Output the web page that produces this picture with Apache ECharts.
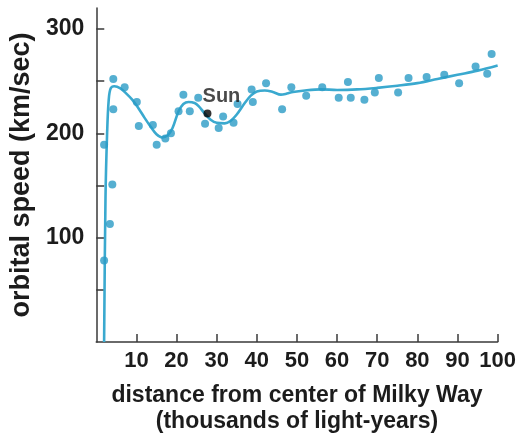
<!DOCTYPE html>
<html>
<head>
<meta charset="utf-8">
<script src="https://cdn.jsdelivr.net/npm/echarts@6/dist/echarts.min.js"></script>
<style>
  html, body { margin: 0; padding: 0; background: #ffffff; }
  #chart { width: 519px; height: 440px; }
</style>
</head>
<body>
<div id="chart"></div>
<script>
// Measured orbital speeds (thousands of light-years, km/sec)
const starDistance = [1.95, 3.4, 4.0, 1.95, 4.24, 4.24, 7.07, 10.1, 10.6, 14.1, 15.05, 17.2, 18.6, 20.5, 21.7, 23.3, 25.4, 27.1, 30.5, 31.6, 34.2, 35.2, 38.7, 39.0, 42.3, 46.3, 48.6, 52.3, 56.3, 60.4, 62.7, 63.4, 66.8, 69.4, 70.4, 75.2, 77.8, 82.3, 86.7, 90.4, 94.5, 97.4, 98.5];
const starSpeed    = [78, 113, 151, 189, 223, 252, 244, 230, 207, 208, 189, 195, 200, 221, 237, 221, 234, 209, 205, 216, 210, 228, 242, 230, 248, 223, 244, 236, 244, 234, 249, 234, 232, 239, 253, 239, 253, 254, 256, 248, 264, 257, 276];

// Fitted rotation curve
const curveDistance = [1.95, 2.3, 2.7, 3.1, 3.6, 4.5, 6, 7.5, 9, 10.5, 12, 13.6, 15, 16.4, 17.8, 19, 20.5, 21.7, 23, 24.5, 25.5, 27, 28.5, 30, 32, 33.5, 35, 37, 38.5, 40, 42, 44, 46, 47.5, 49, 52, 56, 60, 65, 70, 75, 80, 85, 90, 95, 100];
const curveSpeed    = [0, 139, 200, 232, 243, 245, 243, 238, 232, 224, 215, 206, 199, 196, 198, 205, 221, 228, 230, 229, 226, 219, 213, 210, 209.5, 212, 218, 229, 236, 240, 241, 239.5, 237, 238, 239.5, 241, 242, 241.5, 242, 243.5, 245.5, 248, 252, 256, 260, 265];

// The Sun's position on the curve
const sunDistance = 27.7;
const sunSpeed = 219;
const sunLabel = 'Sun';

// Axis ticks and labels
const xTickValues = [10, 20, 30, 40, 50, 60, 70, 80, 90, 100];
const yTickValues = [50, 100, 150, 200, 250, 300];
const yLabelValues = [100, 200, 300];

const FONT = "'Liberation Sans', Arial, Helvetica, sans-serif";
const INK = '#1c1c1c';
const AXIS = '#3a3a3a';

const stars = starDistance.map((d, i) => [d, starSpeed[i]]);
const curve = curveDistance.map((d, i) => [d, curveSpeed[i]]);

const chart = echarts.init(document.getElementById('chart'), null, { renderer: 'canvas' });
chart.setOption({
  animation: false,
  backgroundColor: '#ffffff',
  grid: { left: 92, right: 17, top: 8, bottom: 92 },
  xAxis: {
    type: 'value',
    min: 0,
    max: 100,
    axisLine: { show: true, lineStyle: { color: AXIS, width: 1.5 } },
    axisTick: { show: true, inside: true, length: 8, customValues: xTickValues, lineStyle: { color: AXIS, width: 1.5 } },
    axisLabel: { customValues: xTickValues, margin: 8, color: INK, fontFamily: FONT, fontWeight: 'bold', fontSize: 22 },
    splitLine: { show: false },
    name: 'distance from center of Milky Way\n(thousands of light-years)',
    nameLocation: 'middle',
    nameGap: 41,
    nameTextStyle: { color: INK, fontFamily: FONT, fontWeight: 'bold', fontSize: 23, lineHeight: 26, align: 'center' }
  },
  yAxis: {
    type: 'value',
    min: 0,
    max: 320,
    axisLine: { show: true, lineStyle: { color: AXIS, width: 1.5 } },
    axisTick: { show: true, inside: true, length: 8, customValues: yTickValues, lineStyle: { color: AXIS, width: 1.5 } },
    axisLabel: { customValues: yLabelValues, margin: 12, color: INK, fontFamily: FONT, fontWeight: 'bold', fontSize: 23 },
    splitLine: { show: false },
    name: 'orbital speed (km/sec)',
    nameLocation: 'middle',
    nameGap: 46,
    nameTextStyle: { color: INK, fontFamily: FONT, fontWeight: 'bold', fontSize: 27 }
  },
  series: [
    {
      type: 'line',
      data: curve,
      smooth: 0.35,
      showSymbol: false,
      lineStyle: { color: '#3aa9cf', width: 2.6 },
      z: 2
    },
    {
      type: 'scatter',
      data: stars,
      symbolSize: 8,
      itemStyle: { color: '#2b9bc6' },
      z: 3
    },
    {
      type: 'scatter',
      data: [[sunDistance, sunSpeed]],
      symbolSize: 8,
      itemStyle: { color: '#000000' },
      label: {
        show: true,
        formatter: sunLabel,
        position: 'top',
        distance: 3,
        offset: [14, 0],
        color: INK,
        fontFamily: FONT,
        fontWeight: 'bold',
        fontSize: 20
      },
      z: 4
    }
  ]
});
</script>
</body>
</html>
